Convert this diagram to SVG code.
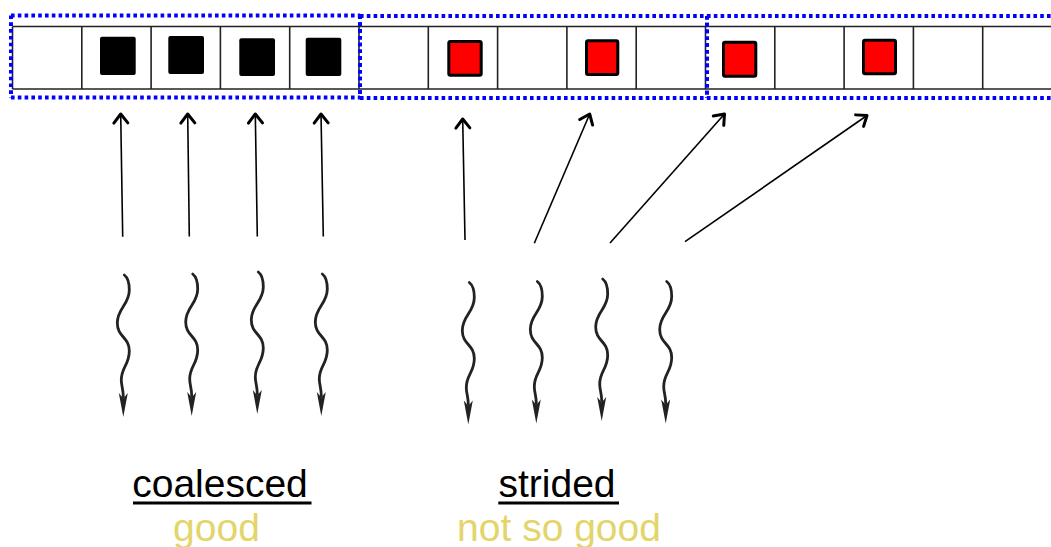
<svg xmlns="http://www.w3.org/2000/svg" xmlns:xlink="http://www.w3.org/1999/xlink" width="1051" height="547" viewBox="0 0 1051 547">
<style>
.cell{stroke:#222;stroke-width:1.6;fill:none}
.blk{fill:#000}
.red{fill:#ff0000;stroke:#000;stroke-width:3}
.grp{fill:none;stroke:#0000ff;stroke-width:4;stroke-dasharray:3.6 3.2}
.ptr{stroke:#000;stroke-width:1.6;fill:none;marker-end:url(#open)}
.sq{fill:none;stroke:#222;stroke-width:2.8;stroke-linecap:round}
.sqh{fill:#222}
.lbl{font-family:"Liberation Sans",Arial,sans-serif;font-size:39px;text-anchor:middle}
.ul{stroke:#000;stroke-width:2.8}
</style>
<defs>
<marker id="open" markerUnits="userSpaceOnUse" viewBox="-12 -10 15 20" refX="0" refY="0" markerWidth="15" markerHeight="20" orient="auto">
<path d="M-9,-7 L0,0 L-9,7" fill="none" stroke="#000" stroke-width="3" stroke-linejoin="round" stroke-linecap="round"/>
</marker>
<g id="squig">
<path class="sq" d="M0,0 C4,3 5,8 5,15 C5,30 -7,33 -7,48 C-7,62 5,62 5,76 C5,90 -3,92 -3,105 C-3,111 -1,114 -1,122"/>
<path class="sqh" d="M-5.5,118 L-1,123.5 L3.5,118 L-1,142 Z"/>
</g>
</defs>
<g id="memory-strip">
<line class="cell" x1="12.5" y1="26.5" x2="1051" y2="26.5"/>
<line class="cell" x1="12.5" y1="89" x2="1051" y2="89"/>
<line class="cell" x1="12.5" y1="26.5" x2="12.5" y2="89"/>
<line class="cell" x1="81.8" y1="26.5" x2="81.8" y2="89"/>
<line class="cell" x1="151.1" y1="26.5" x2="151.1" y2="89"/>
<line class="cell" x1="220.4" y1="26.5" x2="220.4" y2="89"/>
<line class="cell" x1="289.7" y1="26.5" x2="289.7" y2="89"/>
<line class="cell" x1="359" y1="26.5" x2="359" y2="89"/>
<line class="cell" x1="428.3" y1="26.5" x2="428.3" y2="89"/>
<line class="cell" x1="497.6" y1="26.5" x2="497.6" y2="89"/>
<line class="cell" x1="566.9" y1="26.5" x2="566.9" y2="89"/>
<line class="cell" x1="636.2" y1="26.5" x2="636.2" y2="89"/>
<line class="cell" x1="705.5" y1="26.5" x2="705.5" y2="89"/>
<line class="cell" x1="774.8" y1="26.5" x2="774.8" y2="89"/>
<line class="cell" x1="844.1" y1="26.5" x2="844.1" y2="89"/>
<line class="cell" x1="913.4" y1="26.5" x2="913.4" y2="89"/>
<line class="cell" x1="982.7" y1="26.5" x2="982.7" y2="89"/>
</g>
<g id="coalesced-data">
<rect class="blk" x="100" y="36.7" width="35.7" height="38.3" rx="2"/>
<rect class="blk" x="168.3" y="36" width="35.7" height="38" rx="2"/>
<rect class="blk" x="239.3" y="38.3" width="35.7" height="37.7" rx="2"/>
<rect class="blk" x="305.7" y="37.7" width="35.6" height="38.3" rx="2"/>
</g>
<g id="strided-data">
<rect class="red" x="448.8" y="41.5" width="32.4" height="33.7" rx="1.5"/>
<rect class="red" x="586.5" y="40.8" width="31.3" height="33.7" rx="1.5"/>
<rect class="red" x="723.5" y="42.2" width="32.3" height="34" rx="1.5"/>
<rect class="red" x="863.5" y="40.2" width="32" height="33.6" rx="1.5"/>
</g>
<g id="segment-1">
<line class="grp" x1="11" y1="15.5" x2="360" y2="15.5"/>
<line class="grp" x1="11" y1="97.5" x2="360" y2="97.5"/>
<line class="grp" x1="11" y1="15.5" x2="11" y2="97.5"/>
<line class="grp" x1="360" y1="15.5" x2="360" y2="97.5"/>
</g>
<g id="segment-2">
<line class="grp" x1="360" y1="16" x2="707" y2="16"/>
<line class="grp" x1="360" y1="98" x2="707" y2="98"/>
<line class="grp" x1="360" y1="15.5" x2="360" y2="97.5"/>
<line class="grp" x1="707" y1="16" x2="707" y2="98"/>
</g>
<g id="segment-3">
<line class="grp" x1="707" y1="16" x2="1051" y2="16"/>
<line class="grp" x1="707" y1="98" x2="1051" y2="98"/>
<line class="grp" x1="707" y1="16" x2="707" y2="98"/>
</g>
<g id="connectors">
<line class="ptr" x1="122.7" y1="236.7" x2="120.7" y2="114"/>
<line class="ptr" x1="189.3" y1="236.5" x2="187.7" y2="114"/>
<line class="ptr" x1="257.3" y1="236.5" x2="255.3" y2="114"/>
<line class="ptr" x1="323.3" y1="236.5" x2="321" y2="114"/>
<line class="ptr" x1="465" y1="240" x2="462.7" y2="119"/>
<line class="ptr" x1="534.3" y1="243.3" x2="589.7" y2="114"/>
<line class="ptr" x1="610" y1="243" x2="724.5" y2="114"/>
<line class="ptr" x1="685" y1="241.7" x2="867" y2="115.5"/>
</g>
<g id="threads-coalesced">
<use xlink:href="#squig" x="124.3" y="275"/>
<use xlink:href="#squig" x="192.7" y="274"/>
<use xlink:href="#squig" x="258.3" y="272"/>
<use xlink:href="#squig" x="322.3" y="274"/>
</g>
<g id="threads-strided">
<use xlink:href="#squig" x="469.3" y="282.5"/>
<use xlink:href="#squig" x="537.3" y="281.5"/>
<use xlink:href="#squig" x="602.7" y="279"/>
<use xlink:href="#squig" x="666.7" y="281.5"/>
</g>
<g id="label-coalesced">
<text class="lbl" x="220" y="497" fill="#000">coalesced</text>
<line class="ul" x1="133" y1="503" x2="311.5" y2="503"/>
<text class="lbl" x="216.5" y="541" fill="#e3d56a">good</text>
</g>
<g id="label-strided">
<text class="lbl" x="557" y="497" fill="#000">strided</text>
<line class="ul" x1="498.3" y1="503" x2="619" y2="503"/>
<text class="lbl" x="559" y="541" fill="#e3d56a">not so good</text>
</g>
</svg>
